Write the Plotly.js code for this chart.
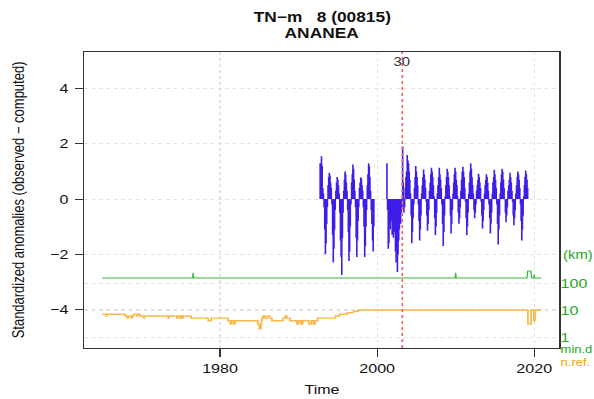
<!DOCTYPE html>
<html><head><meta charset="utf-8">
<script src="https://cdn.plot.ly/plotly-3.0.1.min.js"></script>
<style>
html,body{margin:0;padding:0;background:#fff;overflow:hidden;}
#wrap{width:594px;height:399px;overflow:hidden;}
#plot{width:480px;height:399px;transform:scaleX(1.2375);transform-origin:0 0;}
</style></head><body><div id="wrap"><div id="plot"></div></div>
<script>
// Monthly standardized anomalies, starting Oct 1992 (null = missing)
const anomStart = 1992 + 9/12;
const anomValues = [
  1.3, 0.9, 1.55,
  1.2, 0.4, 0.2, -0.3, -1.1, -2.0, -1.6, -0.9, -0.3, 0.5, 0.8, 0.95,
  0.85, 0.6, 0.4, -0.2, -1.3, -2.3, -1.8, -1.1, -0.4, 0.3, 0.6, 0.8,
  0.7, 0.5, 0.2, -0.5, -1.5, -2.1, -2.75, -1.4, -0.5, 0.3, 0.7, 1.0,
  0.9, 0.6, 0.3, -0.4, -1.2, -2.25, -1.9, -1.0, -0.2, 0.6, 0.9, 1.25,
  1.1, 0.7, 0.3, -0.3, -1.4, -2.1, -1.5, -0.8, -0.3, 0.4, 0.6, 0.78,
  0.75, 0.5, 0.3, -0.3, -1.0, -2.1, -1.7, -1.0, -0.4, 0.5, 0.9, 1.3,
  1.2, 0.8, 0.3, -0.4, -0.9, -1.5, -1.9, -1.0, null, null, null, null,
  null, null, null, null, null, null, null, null, null, null, null, null,
  null, null, null, 1.3, -0.4, -1.8, -1.6, -0.9, -1.1, -0.6, -0.8, -1.3,
  -1.0, -1.4, -0.9, -1.2, -1.9, -2.3, -1.8, -2.65, -2.0, -1.5, -1.1, -0.7,
  -0.9, -0.5, -0.3, 1.9, 0.6, -0.5, -0.3, 0.4, 0.8, 1.0, 1.6, 1.4,
  1.3, 1.0, 0.7, 0.2, -0.6, -1.6, -1.2, -0.7, -0.2, 0.4, 0.8, 1.2,
  1.0, 0.8, 0.5, -0.2, -0.8, -1.5, -1.1, -0.6, 0.2, 0.5, 0.8, 1.07,
  0.9, 0.7, 0.4, -0.1, -0.6, -1.15, -0.9, -0.4, 0.3, 0.6, 0.9, 1.13,
  1.0, 0.8, 0.5, 0.1, -0.7, -1.3, -1.0, -0.5, 0.2, 0.5, 0.8, 1.13,
  0.9, 0.7, 0.4, -0.2, -0.9, -1.7, -1.2, -0.6, 0.1, 0.5, 0.8, 1.1,
  1.0, 0.8, 0.5, 0.1, -0.6, -1.25, -0.9, -0.4, 0.2, 0.6, 0.9, 1.13,
  1.0, 0.7, 0.5, 0.1, -0.5, -0.9, -0.7, -0.3, 0.3, 0.7, 1.0, 1.17,
  1.0, 0.8, 0.4, -0.1, -0.7, -1.3, -1.0, -0.5, 0.2, 0.6, 1.0, 1.3,
  1.1, 0.8, 0.5, 0.2, -0.4, -0.7, -0.5, -0.2, 0.3, 0.5, 0.7, 0.92,
  0.8, 0.6, 0.4, -0.1, -0.6, -1.07, -0.8, -0.4, 0.2, 0.5, 0.7, 0.9,
  0.8, 0.6, 0.3, -0.2, -0.7, -1.25, -0.9, -0.5, 0.2, 0.6, 0.8, 1.06,
  0.9, 0.7, 0.4, -0.2, -0.9, -1.65, -1.1, -0.6, 0.2, 0.6, 0.9, 1.1,
  1.0, 0.7, 0.4, 0.0, -0.5, -0.84, -0.6, -0.3, 0.3, 0.5, 0.7, 0.95,
  0.8, 0.6, 0.3, -0.1, -0.6, -0.95, -0.7, -0.4, 0.2, 0.5, 0.8, 1.0,
  0.9, 0.7, 0.4, -0.2, -0.8, -1.5, -1.1, -0.6, 0.1, 0.5, 0.8, 1.03,
  0.9, 0.7, 0.4
];

// Minimum distance to nearest reference (km)
const mindT = [1965.0, 1976.5, 1976.58, 1976.67, 2009.92, 2010.0, 2010.08, 2019.08, 2019.17, 2019.58, 2019.67, 2019.92, 2020.0, 2020.08, 2020.92];
const mindV = [153, 153, 240, 153, 153, 240, 153, 153, 277, 277, 153, 153, 210, 153, 153];

// Number of references used
const nrefT = [1965.0, 1965.5, 1965.6, 1967.9, 1968.2, 1968.3, 1968.7, 1968.8, 1969.0, 1969.4, 1969.5, 1969.8, 1970.3, 1970.4, 1973.4, 1973.5, 1974.5, 1974.6, 1974.9, 1975.0, 1975.2, 1975.3, 1976.3, 1978.5, 1978.9, 1981.0, 1981.3, 1981.5, 1981.8, 1981.9, 1984.8, 1985.0, 1985.2, 1985.3, 1985.5, 1985.7, 1986.0, 1986.3, 1986.6, 1988.0, 1988.3, 1988.5, 1988.9, 1989.8, 1990.0, 1990.3, 1990.5, 1991.3, 1991.6, 1991.9, 1992.1, 1992.4, 1994.7, 1995.2, 1996.2, 1997.0, 1997.6, 2019.2, 2019.6, 2019.95, 2020.1, 2020.92];
const nrefV = [7, 6, 7, 6, 5, 6, 5, 6, 7, 6, 7, 6, 5, 6, 5, 6, 5, 6, 5, 6, 5, 6, 5, 4, 5, 4, 3, 4, 3, 4, 3, 2, 3, 5, 6, 5, 6, 5, 4, 5, 6, 5, 4, 3, 4, 3, 4, 3, 4, 3, 4, 5, 6, 7, 8, 9, 10, 3, 10, 4, 10, 10];

// Break point
const breakYear = 2003.2;
const breakLabel = '30';

const xTicks = [1980, 2000, 2020];
const yTicks = [-4, -2, 0, 2, 4];
const y2Ticks = [1, 10, 100];

const bx = [], by = [];
anomValues.forEach((v, i) => {
  if (v === null) return;
  const t = anomStart + i / 12;
  bx.push(t, t, null); by.push(0, v, null);
});

const FONT = 'Liberation Sans, Arial, Helvetica, sans-serif';
const GREEN = '#22a822';
const ORANGE = '#f5a000';
const GRID = '#e2e2e2';

const traces = [
  {x: bx, y: by, type: 'scatter', mode: 'lines', line: {color: '#3d1fe8', width: 1.3}, hoverinfo: 'skip'},
  {x: mindT, y: mindV, yaxis: 'y2', type: 'scatter', mode: 'lines', line: {color: '#3cb83c', width: 1}},
  {x: nrefT, y: nrefV, yaxis: 'y2', type: 'scatter', mode: 'lines', line: {color: '#f8b848', width: 1.4, shape: 'hv'}}
];

const pyr = px => (348 - px) / 296;

const layout = {
  width: 480, height: 399, autosize: false,
  margin: {l: 68, r: 28, t: 52, b: 51},
  paper_bgcolor: '#fff', plot_bgcolor: '#fff',
  showlegend: false,
  font: {family: FONT, size: 13, color: '#111'},
  xaxis: {range: [1962.7, 2023.2], tickvals: xTicks, ticks: 'outside', ticklen: 8, tickcolor: '#333',
          showgrid: true, gridcolor: GRID, griddash: 'dot', zeroline: false,
          showline: true, mirror: true, linecolor: '#333', linewidth: 1, tickfont: {size: 13}},
  yaxis: {range: [-5.40, 5.33], tickvals: yTicks, ticks: 'outside', ticklen: 6, tickcolor: '#333',
          ticklabelstandoff: 3,
          showgrid: true, gridcolor: GRID, griddash: 'dot', zeroline: false,
          showline: true, mirror: true, linecolor: '#333', linewidth: 1, tickfont: {size: 13}},
  yaxis2: {overlaying: 'y', side: 'right', type: 'log', range: [-0.407, 10.56], tickvals: y2Ticks, ticktext: y2Ticks.map(String),
           ticks: '', showgrid: true, gridcolor: GRID, griddash: 'dot', zeroline: false, showline: false,
           tickfont: {size: 13, color: GREEN}},
  shapes: [{type: 'line', xref: 'x', yref: 'paper', x0: breakYear, x1: breakYear, y0: 0, y1: 1,
            line: {color: '#f06060', width: 1.3, dash: 'dot'}, layer: 'above'}],
  annotations: [
    {text: '<b>TN\u2212m\u00a0\u00a0\u00a08 (00815)</b>', x: 0.5, xref: 'paper', y: pyr(17), yref: 'paper', yanchor: 'middle', showarrow: false, font: {size: 14, color: '#111'}},
    {text: '<b>ANANEA</b>', x: 0.5, xref: 'paper', y: pyr(33), yref: 'paper', yanchor: 'middle', showarrow: false, font: {size: 14, color: '#111'}},
    {text: breakLabel, x: breakYear, xref: 'x', y: pyr(62), yref: 'paper', yanchor: 'middle', showarrow: false, font: {size: 12, color: '#333'}},
    {text: 'Standardized anomalies (observed \u2212 computed)', textangle: -90, x: 0, xref: 'paper', xanchor: 'center', xshift: -53.5,
     y: 0.5, yref: 'paper', yanchor: 'middle', showarrow: false, font: {size: 13, color: '#111'}},
    {text: 'Time', x: 0.5, xref: 'paper', y: pyr(389), yref: 'paper', yanchor: 'middle', showarrow: false, font: {size: 13, color: '#111'}},
    {text: '(km)', x: 1, xref: 'paper', xanchor: 'left', xshift: 1, y: pyr(255), yref: 'paper', yanchor: 'middle', showarrow: false, font: {size: 12, color: GREEN}},
    {text: 'min.d', x: 1, xref: 'paper', xanchor: 'left', xshift: -1, y: pyr(349), yref: 'paper', yanchor: 'middle', showarrow: false, font: {size: 10.5, color: GREEN}},
    {text: 'n.ref.', x: 1, xref: 'paper', xanchor: 'left', xshift: -1, y: pyr(362), yref: 'paper', yanchor: 'middle', showarrow: false, font: {size: 10.5, color: ORANGE}}
  ]
};

Plotly.newPlot('plot', traces, layout, {staticPlot: true, displayModeBar: false});
</script>
</body></html>
